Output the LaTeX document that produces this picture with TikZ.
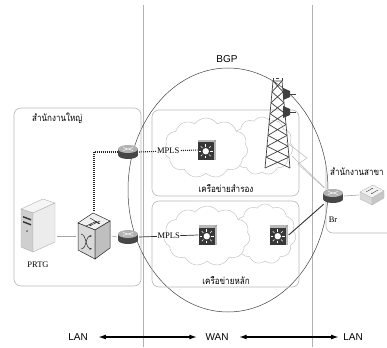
\documentclass[tikz,border=0pt]{standalone}
\usepackage{fontspec}
\setmainfont{Liberation Serif}
\newfontfamily\arialfont{Liberation Sans}
\newfontfamily\thaifont[Script=Thai, FakeStretch=0.85]{Loma}
\usetikzlibrary{shapes.symbols,arrows.meta,calc,positioning}

\tikzset{
  zoneline/.style={draw=gray!60, line width=0.7pt},
  areabox/.style={draw=gray!55, line width=0.6pt, rounded corners=7pt},
  puff/.style={cloud, cloud puffs=11, cloud puff arc=110, draw=gray!45, fill=white, line width=0.5pt, inner sep=0pt},
  thailabel/.style={font=\thaifont\fontsize{9.5}{11}\selectfont, inner sep=1pt},
  latin/.style={font=\fontsize{8.5}{10}\selectfont, inner sep=1pt},
  sidelabel/.style={font=\arialfont\fontsize{10}{12}\selectfont, inner sep=1pt},
  mpls/.style={latin, fill=white, inner sep=0.5pt},
  wire/.style={draw=black!80, line width=0.7pt},
  dotwire/.style={draw=black!85, line width=1.1pt, dash pattern=on 1pt off 1pt},
  spanarrow/.style={line width=1.6pt, {Latex[length=8pt,width=5pt]}-{Latex[length=8pt,width=5pt]}},
  % cisco style router
  routericon/.style={minimum width=22pt, minimum height=16pt, inner sep=0pt,
    path picture={
      \begin{scope}[shift={(path picture bounding box.center)}]
        \fill[black!72] (-10,-3) rectangle (10,3);
        \fill[black!72] (0,3) ellipse [x radius=10, y radius=4];
        \fill[gray!60] (0,-3) ellipse [x radius=10, y radius=4];
        \draw[white, line width=0.5pt] (-5,-4.5) -- (5,-1.5) (-5,-1.5) -- (5,-4.5);
      \end{scope}}},
  % layer 3 switch
  l3icon/.style={minimum width=19pt, minimum height=21pt, inner sep=0pt,
    path picture={
      \begin{scope}[shift={(path picture bounding box.center)}]
        \fill[gray!55] (-9,-10) rectangle (9,10);
        \fill[black!78] (-9,-7.5) rectangle (6.5,10);
        \draw[gray!85] (6.5,-7.5) -- (9,-10);
        \fill[white] (-1.25,1.25) circle (3.2pt);
        \foreach \a in {0,45,...,315}
          \draw[white, line width=0.6pt] (-1.25,1.25) ++(\a:4.6) -- ++(\a:2.4);
      \end{scope}}},
  % core switch
  coreicon/.style={minimum width=35pt, minimum height=49pt, inner sep=0pt,
    path picture={
      \begin{scope}[shift={(path picture bounding box.center)}, draw=gray!30!black, line width=0.5pt]
        \filldraw[fill=gray!12] (-1,-23) -- (16,-15) -- (1,-6) -- (-16,-13) -- cycle;
        \filldraw[fill=gray!30] (-16,-13) -- (1,-6) -- (1,23) -- (-16,14) -- cycle;
        \filldraw[fill=gray!50] (1,-6) -- (16,-15) -- (16,12) -- (1,23) -- cycle;
        \draw[-{Stealth[length=2.5pt]}] (-8,-10) -- (3,-15);
        \draw[-{Stealth[length=2.5pt]}] (6,-15) -- (-5,-10);
        \draw[-{Stealth[length=2.5pt]}] (-4,-18) -- (6,-12);
        \draw[-{Stealth[length=2.5pt]}] (-13,-2) .. controls (-7,-1) and (-9,12) .. (-2,13);
        \draw[-{Stealth[length=2.5pt]}] (-13,13) .. controls (-7,13) and (-9,0) .. (-2,0);
      \end{scope}}},
  % server tower
  servericon/.style={minimum width=37pt, minimum height=57pt, inner sep=0pt,
    path picture={
      \begin{scope}[shift={(path picture bounding box.center)}, draw=gray!60, line width=0.4pt]
        \filldraw[fill=gray!8] (-17,-16) -- (5,-26) -- (17,-22) -- (-5,-12) -- cycle;
        \filldraw[fill=gray!38] (-17,-16) -- (-5,-12) -- (-5,27) -- (-17,22) -- cycle;
        \filldraw[fill=gray!15] (-5,-12) -- (17,-22) -- (17,17) -- (-5,27) -- cycle;
        \fill[black!80] (-15,-9) -- (-7,-6) -- (-7,-4.5) -- (-15,-7.5) -- cycle;
        \fill[black!80] (-15,-4) -- (-7,-1) -- (-7,0.5) -- (-15,-2.5) -- cycle;
        \fill[black!60] (-11,6) circle (1pt);
      \end{scope}}},
  % branch switch
  smallswitch/.style={minimum width=26pt, minimum height=22pt, inner sep=0pt,
    path picture={
      \begin{scope}[shift={(path picture bounding box.center)}, draw=gray!55, line width=0.4pt]
        \filldraw[fill=gray!10] (-12,-3) -- (1,-10) -- (12,-4) -- (0,3) -- cycle;
        \filldraw[fill=gray!30] (-12,-3) -- (0,3) -- (0,10) -- (-12,4) -- cycle;
        \filldraw[fill=gray!45] (0,3) -- (12,-4) -- (12,3) -- (0,10) -- cycle;
        \draw[black!70, -{Stealth[length=1.5pt]}] (-6,-3) -- (1,-7);
        \draw[black!70, -{Stealth[length=1.5pt]}] (6,-5) -- (-1,-1);
      \end{scope}}}
}

\begin{document}
\begin{tikzpicture}[x=1pt, y=-1pt]
  \useasboundingbox (0,0) rectangle (387,347);

  % LAN / WAN / LAN borders
  \draw[zoneline] (143,5) -- (143,347);
  \draw[zoneline] (312,5) -- (312,347);

  % BGP area
  \draw[gray!50!black, line width=0.5pt] (228,190) ellipse [x radius=100, y radius=122];
  \node[sidelabel] (bgp) at (227,59) {BGP};

  % offices and carrier networks
  \draw[areabox] (14,108) rectangle (141,286);
  \draw[areabox] (152,110) rectangle (299,196);
  \draw[areabox] (152,201) rectangle (299,287);
  \draw[areabox] (326,165) -- (326,233) -- (395,233);

  \node[puff, minimum width=62pt, minimum height=58pt] (cloudbakB) at (262,146) {};
  \node[puff, minimum width=84pt, minimum height=60pt] (cloudbakA) at (206,148) {};
  \node[puff, minimum width=62pt, minimum height=60pt] (cloudmainB) at (265,234) {};
  \node[puff, minimum width=86pt, minimum height=60pt] (cloudmainA) at (207,236) {};

  % radio mast
  \coordinate (mastTL) at (273,81);
  \coordinate (mastTR) at (282,81);
  \coordinate (mastBL) at (265,168);
  \coordinate (mastBR) at (290,168);
  \begin{scope}[black!75, line width=0.7pt]
    \draw (mastTL) -- (mastBL) (mastTR) -- (mastBR) (mastTL) -- (mastTR);
    \draw (mastTL) -- ++(0,-3) (mastTR) -- ++(0,-3) (276,78) -- (279,78);
    \foreach \k in {0,...,7} {
      \pgfmathsetmacro\ta{\k/8}
      \pgfmathsetmacro\tb{(\k+1)/8}
      \draw ($(mastTL)!\ta!(mastBL)$) -- ($(mastTR)!\tb!(mastBR)$)
            ($(mastTR)!\ta!(mastBR)$) -- ($(mastTL)!\tb!(mastBL)$);
    }
  \end{scope}
  \fill[black!75] (283,88) -- (290,91) -- (290,97) -- (283,100) -- cycle;
  \draw[black!75, line width=0.8pt] (290,94) -- (296,94);
  \fill[black!75] (283,106) -- (290,109) -- (290,115) -- (283,118) -- cycle;
  \draw[black!75, line width=0.8pt] (290,112) -- (296,112);
  \coordinate (mastfoot) at (286,142);
  \coordinate (mastside) at (292,156);

  % devices
  \node[servericon] (prtg) at (38,225) {};
  \node[latin] (prtglabel) at (38,265) {PRTG};
  \node[coreicon] (core) at (94,236) {};
  \node[routericon] (rbak) at (128,152) {};
  \node[routericon] (rmain) at (128,237) {};
  \node[l3icon] (sbak) at (207,150) {};
  \node[l3icon] (smain1) at (208,235) {};
  \node[l3icon] (smain2) at (279,235) {};
  \node[routericon] (br) at (333,196) {};
  \node[latin] (brlabel) at (333,220) {Br};
  \node[smallswitch] (bsw) at (372,195) {};

  % links
  \draw[gray!70, line width=0.6pt] (core.west) -- (core.west -| prtg.east);
  \draw[gray!70, line width=0.6pt] (core.east) -- (rmain.west);
  \draw[dotwire] (core.north) |- (rbak.west);
  \draw[dotwire] (rbak.east) -- node[mpls] (mplsbak) {MPLS} (sbak.west);
  \draw[wire] (rmain.east) -- node[mpls] (mplsmain) {MPLS} (smain1.west);
  \draw[wire, line width=0.9pt] (smain2.east) -- (br);
  \draw[gray!70, line width=0.6pt] (br.east) -- (bsw.west);
  \draw[gray!55, line width=0.5pt] (mastfoot) -- (307,158) -- (298,164) -- (br);
  \draw[gray!55, line width=0.5pt] (mastside) -- (br);

  % area names
  \node[thailabel, anchor=west] (hqname) at (31,118) {สำนักงานใหญ่};
  \node[thailabel] (bakname) at (226,189) {เครือข่ายสำรอง};
  \node[thailabel] (mainname) at (226,281) {เครือข่ายหลัก};
  \node[thailabel, anchor=west] (branchname) at (329,172) {สำนักงานสาขา};

  % scope of each network
  \node[sidelabel] (lanleft) at (78,337) {LAN};
  \node[sidelabel] (wan) at (217,337) {WAN};
  \node[sidelabel] (lanright) at (353,337) {LAN};
  \draw[spanarrow, shorten <=9pt, shorten >=7pt] (lanleft.east) -- (wan.west);
  \draw[spanarrow, shorten <=9pt, shorten >=3pt] (wan.east) -- (lanright.west);
\end{tikzpicture}
\end{document}
